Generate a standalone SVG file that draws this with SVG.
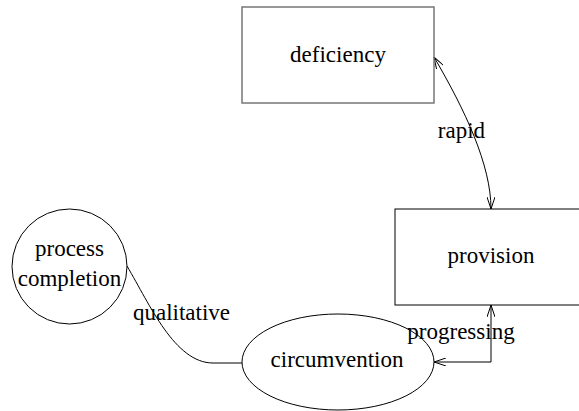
<svg xmlns="http://www.w3.org/2000/svg" width="579" height="411" viewBox="0 0 579 411">
<style>
  .shape { fill: none; stroke: #000; stroke-width: 1; }
  .gray { stroke: #777; stroke-width: 1.5; }
  .t { font-family: "Liberation Serif", "DejaVu Serif", serif; font-size: 23px; fill: #000; text-anchor: middle; }
  .edge { fill: none; stroke: #000; stroke-width: 1; }
</style>
<defs>
  <marker id="arr" viewBox="0 0 12 8" refX="12" refY="4" markerWidth="12" markerHeight="8" markerUnits="userSpaceOnUse" orient="auto-start-reverse">
    <path d="M0,0 L12,4 L0,8" fill="none" stroke="#000" stroke-width="1"/>
  </marker>
</defs>
<rect width="579" height="411" fill="#fff"/>
<g id="connectors">
  <path class="edge" d="M434,57 C465,110 491,165 491,209" marker-start="url(#arr)" marker-end="url(#arr)"/>
  <path class="edge" d="M491,305 L491,362 L434,362" marker-start="url(#arr)" marker-end="url(#arr)"/>
  <path class="edge" d="M127,266 C150,305 175,363 213,363 L242,363"/>
  <text class="t" x="461.5" y="138">rapid</text>
  <text class="t" x="461" y="339">progressing</text>
  <text class="t" x="181.5" y="320">qualitative</text>
</g>
<g id="deficiency">
  <rect class="shape gray" x="242" y="7" width="192" height="96"/>
  <text class="t" x="338" y="62">deficiency</text>
</g>
<g id="provision">
  <rect class="shape" x="395" y="209" width="194" height="96"/>
  <text class="t" x="491" y="263">provision</text>
</g>
<g id="process_completion">
  <circle class="shape" cx="69.5" cy="266.5" r="57.5"/>
  <text class="t" x="69.5" y="256">process</text>
  <text class="t" x="69.5" y="286">completion</text>
</g>
<g id="circumvention">
  <ellipse class="shape" cx="338" cy="362" rx="96" ry="48"/>
  <text class="t" x="337" y="367">circumvention</text>
</g>
</svg>
